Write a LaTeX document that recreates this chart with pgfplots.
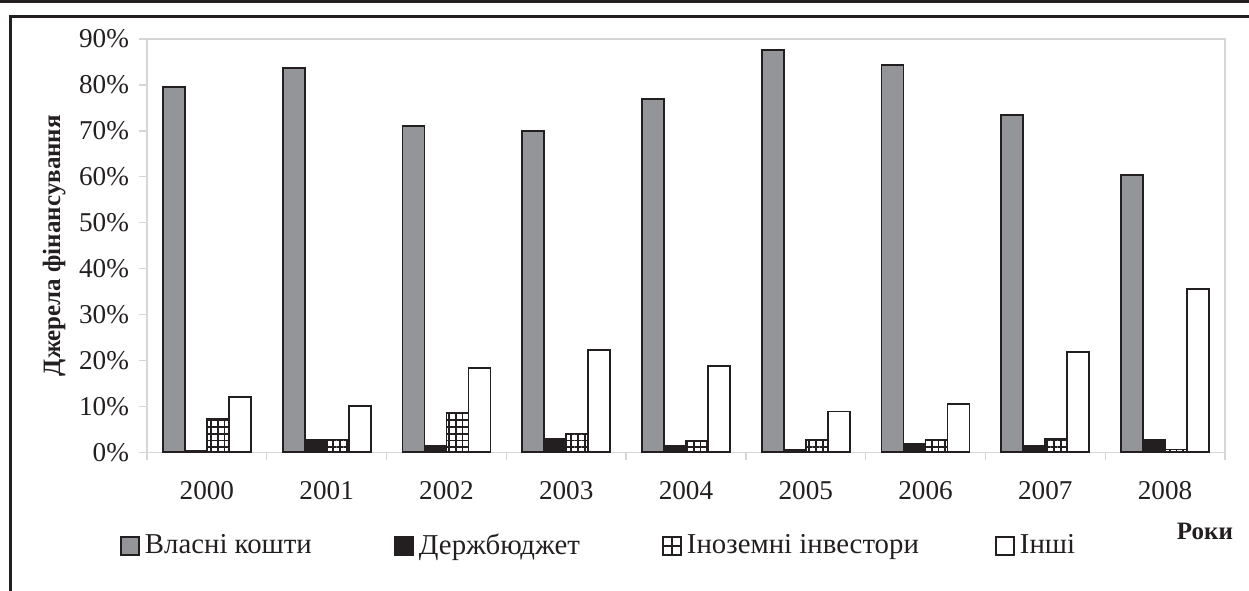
\documentclass[border=0pt]{standalone}
\usepackage{fontspec}
\setmainfont{Liberation Serif}
\usepackage{pgfplots}
\pgfplotsset{compat=1.18}
\usetikzlibrary{patterns.meta}
\definecolor{barblack}{HTML}{231F20}
\definecolor{bargray}{HTML}{939598}
\definecolor{axgray}{HTML}{D6D6D6}
\begin{document}
\begin{tikzpicture}
\begin{axis}[
  at={(73.5pt,68.85pt)}, anchor=south west,
  scale only axis, width=539pt, height=206.65pt,
  ybar=0pt, bar width=11pt,
  xmin=-0.5, xmax=8.5, ymin=0, ymax=90,
  xtick={-0.5,0.5,1.5,2.5,3.5,4.5,5.5,6.5,7.5,8.5},
  x tick label as interval,
  xticklabels={2000,2001,2002,2003,2004,2005,2006,2007,2008},
  ytick={0,10,...,90},
  yticklabel={\pgfmathprintnumber{\tick}\%},
  /pgf/number format/assume math mode=true,
  tick align=outside, major tick length=4pt,
  tick pos=left,
  axis line style={axgray, line width=0.7pt},
  tick style={axgray, line width=0.7pt},
  tick label style={font=\fontsize{13.6}{16}\selectfont, text=barblack},
  xticklabel style={yshift=-7pt},
  yticklabel style={xshift=-1.5pt},
  ylabel={Джерела фінансування},
  ylabel style={at={(axis description cs:-0.0862,0.5)}, anchor=center, font=\bfseries\fontsize{12.5}{15}\selectfont, text=barblack},
  xlabel={Роки},
  xlabel style={at={(axis description cs:0.9814,-0.2101)}, anchor=base, font=\bfseries\fontsize{12.5}{15}\selectfont, text=barblack},
  legend columns=4,
  legend cell align=left,
  legend style={at={(axis description cs:-0.02505,-0.2265)}, anchor=west, draw=none, fill=none,
    inner sep=0pt, outer sep=0pt, column sep=0pt,
    nodes={inner sep=0pt, font=\fontsize{14.4}{17}\selectfont, text=barblack}},
]
\addplot[draw=barblack, line width=0.9pt, fill=bargray,
  legend image code/.code={\draw[line width=1pt, draw=barblack, fill=bargray] (0pt,-4.5pt) rectangle (9pt,4.5pt);}]
  coordinates {(0,79.5) (1,83.7) (2,71.1) (3,70.0) (4,77.0) (5,87.6) (6,84.4) (7,73.5) (8,60.4)};
\addlegendentry{\hspace{2.5pt}\makebox[124.5pt][l]{Власні кошти}}
\addplot[draw=barblack, line width=0.9pt, fill=barblack,
  legend image code/.code={\draw[line width=1pt, draw=barblack, fill=barblack] (0pt,-4.5pt) rectangle (9pt,4.5pt);}]
  coordinates {(0,0.4) (1,2.8) (2,1.4) (3,3.0) (4,1.3) (5,0.5) (6,1.8) (7,1.3) (8,2.8)};
\addlegendentry{\hspace{2.5pt}\makebox[121.5pt][l]{Держбюджет}}
\addplot[draw=barblack, line width=0.9pt, pattern={Hatch[angle=0,distance=3.4pt,line width=0.9pt]}, pattern color=barblack,
  legend image code/.code={\draw[line width=1pt, draw=barblack, fill=white] (0pt,-4.5pt) rectangle (9pt,4.5pt);
    \draw[line width=1pt, draw=barblack] (4.5pt,-4.5pt) -- (4.5pt,4.5pt) (0pt,0pt) -- (9pt,0pt);}]
  coordinates {(0,7.2) (1,2.8) (2,8.5) (3,4.1) (4,2.5) (5,2.7) (6,2.6) (7,2.9) (8,0.6)};
\addlegendentry{\hspace{2.5pt}\makebox[154pt][l]{Іноземні інвестори}}
\addplot[draw=barblack, line width=0.9pt, fill=white,
  legend image code/.code={\draw[line width=1pt, draw=barblack, fill=white] (0pt,-4.5pt) rectangle (9pt,4.5pt);}]
  coordinates {(0,12.1) (1,10.1) (2,18.3) (3,22.3) (4,18.8) (5,8.9) (6,10.5) (7,21.9) (8,35.5)};
\addlegendentry{\hspace{2.5pt}Інші}
\end{axis}
\fill[barblack] (0pt,293.3pt) rectangle (624.5pt,295pt);
\draw[barblack, line width=1.4pt, line join=miter] (5.4pt,-2pt) -- (5.4pt,286.9pt) -- (630pt,286.9pt);
\pgfresetboundingbox
\useasboundingbox (0pt,0pt) rectangle (624.5pt,295pt);
\end{tikzpicture}
\end{document}
